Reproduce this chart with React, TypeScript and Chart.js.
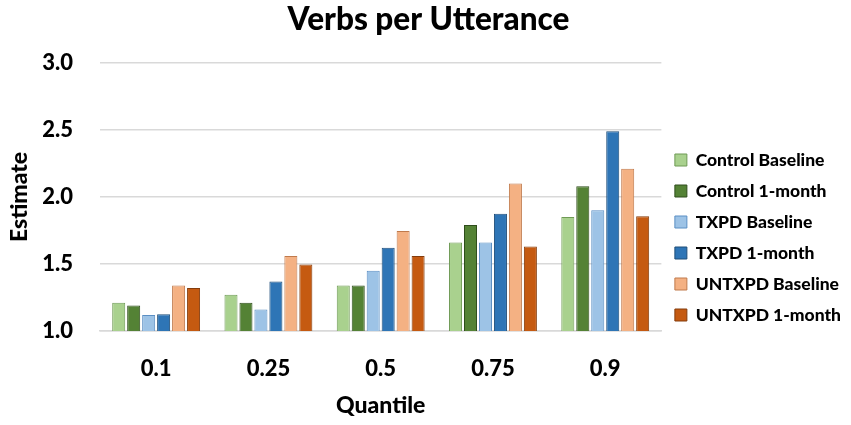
import { useEffect, useRef } from 'react'
import { Chart, registerables } from 'chart.js'

Chart.register(...registerables)

const quantiles = ['0.1', '0.25', '0.5', '0.75', '0.9']

const controlBaseline = [1.21, 1.27, 1.34, 1.66, 1.85]
const control1Month = [1.19, 1.21, 1.34, 1.79, 2.08]
const txpdBaseline = [1.12, 1.16, 1.45, 1.66, 1.9]
const txpd1Month = [1.125, 1.37, 1.62, 1.875, 2.49]
const untxpdBaseline = [1.34, 1.56, 1.745, 2.1, 2.21]
const untxpd1Month = [1.32, 1.495, 1.56, 1.63, 1.855]

const FONT = 'Lato, "Open Sans", sans-serif'

export default function App() {
    const canvasRef = useRef<HTMLCanvasElement>(null)
    const chartRef = useRef<Chart | null>(null)

    useEffect(() => {
        document.body.style.margin = '0'
        if (!canvasRef.current) return
        if (chartRef.current) chartRef.current.destroy()

        const series = [
            { label: 'Control Baseline', data: controlBaseline, bg: '#a9d18e', border: '#6f9a55' },
            { label: 'Control 1-month', data: control1Month, bg: '#548235', border: '#2f4d1c' },
            { label: 'TXPD Baseline', data: txpdBaseline, bg: '#9dc3e6', border: '#5b8fc4' },
            { label: 'TXPD 1-month', data: txpd1Month, bg: '#2e75b6', border: '#1f4e79' },
            { label: 'UNTXPD Baseline', data: untxpdBaseline, bg: '#f4b183', border: '#c07a4c' },
            { label: 'UNTXPD 1-month', data: untxpd1Month, bg: '#c55a11', border: '#843c0c' },
        ]

        chartRef.current = new Chart(canvasRef.current, {
            type: 'bar',
            data: {
                labels: quantiles,
                datasets: series.map(s => ({
                    label: s.label,
                    data: s.data,
                    backgroundColor: s.bg,
                    borderColor: s.border,
                    borderWidth: 1,
                    categoryPercentage: 0.8,
                    barPercentage: 0.87,
                })),
            },
            options: {
                responsive: false,
                animation: false,
                layout: { padding: { top: 0, right: 0, bottom: 6, left: 6 } },
                plugins: {
                    title: {
                        display: true,
                        text: 'Verbs per Utterance',
                        color: '#000',
                        font: { family: FONT, size: 31.5, weight: 900 },
                        padding: { top: 1, bottom: 24 },
                    },
                    legend: {
                        position: 'right',
                        // blank title only pushes the legend items down
                        title: {
                            display: true,
                            text: ' ',
                            font: { size: 10 },
                            padding: { top: 44, bottom: 0 },
                        },
                        labels: {
                            color: '#000',
                            boxWidth: 12,
                            boxHeight: 12,
                            padding: 13.5,
                            font: { family: FONT, size: 17.5, weight: 900 },
                        },
                    },
                    tooltip: { enabled: false },
                },
                scales: {
                    x: {
                        grid: { display: false },
                        border: { color: '#d9d9d9', width: 1.5 },
                        afterFit: s => { s.height = 88 },
                        ticks: {
                            color: '#000',
                            padding: 17,
                            font: { family: FONT, size: 22, weight: 900 },
                        },
                        title: {
                            display: true,
                            text: 'Quantile',
                            color: '#000',
                            padding: { top: 0, bottom: 0 },
                            font: { family: FONT, size: 23, weight: 900 },
                        },
                    },
                    y: {
                        min: 1,
                        max: 3,
                        grid: { color: '#d9d9d9', lineWidth: 1.5, drawTicks: false },
                        border: { display: false },
                        afterFit: s => { s.width = 94 },
                        ticks: {
                            stepSize: 0.5,
                            color: '#000',
                            padding: 27,
                            callback: v => Number(v).toFixed(1),
                            font: { family: FONT, size: 22, weight: 900 },
                        },
                        title: {
                            display: true,
                            text: 'Estimate',
                            color: '#000',
                            padding: { top: 0, bottom: 0 },
                            font: { family: FONT, size: 23, weight: 900 },
                        },
                    },
                },
            },
        })

        return () => { chartRef.current?.destroy() }
    }, [])

    return (
        <div style={{ width: 851, height: 425, background: '#fff' }}>
            <canvas ref={canvasRef} width={851} height={425} />
        </div>
    )
}
